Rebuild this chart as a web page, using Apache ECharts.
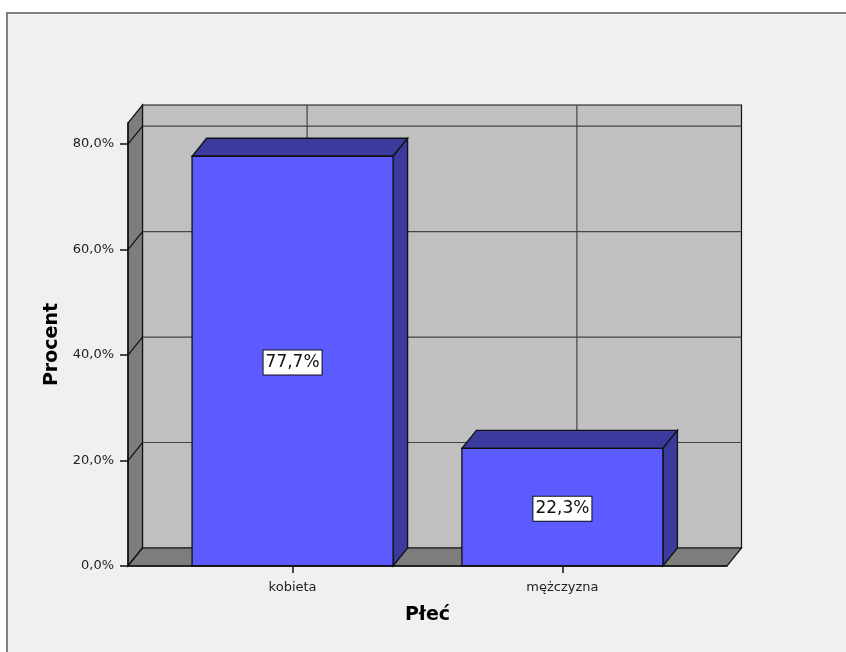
<!DOCTYPE html>
<html>
<head>
<meta charset="utf-8">
<script src="https://cdn.jsdelivr.net/npm/echarts@6/dist/echarts.min.js"></script>
<style>
  html, body { margin: 0; padding: 0; background: #ffffff; }
  #chart { width: 846px; height: 652px; }
</style>
</head>
<body>
<div id="chart"></div>
<script>
// Share of respondents by sex
const categories = ['kobieta', 'mężczyzna'];
const percents = [77.7, 22.3];
const percentTicks = [0, 20, 40, 60, 80];
const categoryTicks = [0, 1];

// Pseudo-3D look: depth offset of the back plane, bar width in category units
const DX = 14.5;
const DY = -18;
const BAR_WIDTH = 0.745;
const X_MIN = -0.61, X_MAX = 1.61;
const Y_MAX = 84;

const fmtPct = v => v.toFixed(1).replace('.', ',') + '%';

const chart = echarts.init(document.getElementById('chart'), null, { renderer: 'canvas' });

function renderWalls(params, api) {
  const cs = params.coordSys;
  const x0 = cs.x, x1 = cs.x + cs.width;
  const yt = cs.y, yb = cs.y + cs.height;
  const children = [];

  // back wall
  children.push({
    type: 'rect',
    shape: { x: x0 + DX, y: yt + DY, width: x1 - x0, height: yb - yt },
    style: { fill: '#c0c0c0', stroke: '#111', lineWidth: 1.2 }
  });
  // horizontal grid lines on the back wall
  percentTicks.forEach(v => {
    if (v === 0) return;
    const y = api.coord([0, v])[1] + DY;
    children.push({
      type: 'line',
      shape: { x1: x0 + DX, y1: y, x2: x1 + DX, y2: y },
      style: { stroke: '#444', lineWidth: 1.2 }
    });
  });
  // vertical grid lines on the back wall, one per category
  categoryTicks.forEach(i => {
    const x = api.coord([i, 0])[0] + DX;
    children.push({
      type: 'line',
      shape: { x1: x, y1: yt + DY, x2: x, y2: yb + DY },
      style: { stroke: '#444', lineWidth: 1.2 }
    });
  });
  // left wall
  children.push({
    type: 'polygon',
    shape: { points: [[x0, yb], [x0, yt], [x0 + DX, yt + DY], [x0 + DX, yb + DY]] },
    style: { fill: '#7d7d7d', stroke: '#111', lineWidth: 1.2 }
  });
  // tick lines running across the left wall
  percentTicks.forEach(v => {
    const y = api.coord([0, v])[1];
    children.push({
      type: 'line',
      shape: { x1: x0, y1: y, x2: x0 + DX, y2: y + DY },
      style: { stroke: '#111', lineWidth: 1.2 }
    });
  });
  // floor
  children.push({
    type: 'polygon',
    shape: { points: [[x0, yb], [x1, yb], [x1 + DX, yb + DY], [x0 + DX, yb + DY]] },
    style: { fill: '#7d7d7d', stroke: '#111', lineWidth: 1.2 }
  });
  return { type: 'group', children };
}

function renderBar(params, api) {
  const xi = api.value(0);
  const val = api.value(1);
  const base = api.coord([xi, 0]);
  const top = api.coord([xi, val]);
  const hw = api.size([BAR_WIDTH, 0])[0] / 2;
  const cx = base[0], by = base[1], ty = top[1];
  const l = cx - hw, r = cx + hw;
  return {
    type: 'group',
    children: [
      {
        type: 'polygon',
        shape: { points: [[l, ty], [r, ty], [r + DX, ty + DY], [l + DX, ty + DY]] },
        style: { fill: '#3a3b9c', stroke: '#111', lineWidth: 1.3 }
      },
      {
        type: 'polygon',
        shape: { points: [[r, ty], [r, by], [r + DX, by + DY], [r + DX, ty + DY]] },
        style: { fill: '#3a3b9c', stroke: '#111', lineWidth: 1.3 }
      },
      {
        type: 'rect',
        shape: { x: l, y: ty, width: r - l, height: by - ty },
        style: { fill: '#5b5bff', stroke: '#111', lineWidth: 1.3 }
      },
      {
        type: 'text',
        x: cx,
        y: (ty + by) / 2 + 1.5,
        style: {
          text: fmtPct(val),
          font: '17px "DejaVu Sans"',
          fill: '#111',
          align: 'center',
          verticalAlign: 'middle',
          backgroundColor: '#ffffff',
          borderColor: '#111',
          borderWidth: 1,
          padding: [4, 2, 3, 2]
        }
      }
    ]
  };
}

const option = {
  animation: false,
  backgroundColor: 'transparent',
  graphic: [{
    type: 'rect',
    z: -10,
    shape: { x: 7, y: 13, width: 900, height: 700 },
    style: { fill: '#f0f0f0', stroke: '#808080', lineWidth: 2 }
  }],
  grid: { left: 128, right: 119, top: 123, bottom: 86 },
  xAxis: {
    type: 'value',
    min: X_MIN,
    max: X_MAX,
    z: 10,
    splitLine: { show: false },
    axisLine: { show: true, onZero: false, lineStyle: { color: '#111', width: 1.5 } },
    axisTick: { show: true, customValues: categoryTicks, length: 7, lineStyle: { color: '#111', width: 1.5 } },
    axisLabel: {
      customValues: categoryTicks,
      formatter: v => categories[Math.round(v)],
      margin: 15,
      fontFamily: 'DejaVu Sans',
      fontSize: 13,
      color: '#222'
    },
    name: 'Płeć',
    nameLocation: 'middle',
    nameGap: 40,
    nameTextStyle: { fontFamily: 'DejaVu Sans', fontWeight: 'bold', fontSize: 19, color: '#000' }
  },
  yAxis: {
    type: 'value',
    min: 0,
    max: Y_MAX,
    z: 10,
    splitLine: { show: false },
    axisLine: { show: true, onZero: false, lineStyle: { color: '#111', width: 1.5 } },
    axisTick: { show: true, customValues: percentTicks, length: 8, lineStyle: { color: '#111', width: 1.5 } },
    axisLabel: {
      customValues: percentTicks,
      formatter: v => fmtPct(v),
      margin: 14,
      fontFamily: 'DejaVu Sans',
      fontSize: 13,
      color: '#222'
    },
    name: 'Procent',
    nameLocation: 'middle',
    nameRotate: 90,
    nameGap: 56,
    nameTextStyle: { fontFamily: 'DejaVu Sans', fontWeight: 'bold', fontSize: 19, color: '#000' }
  },
  series: [
    {
      type: 'custom',
      name: 'walls',
      z: 1,
      silent: true,
      clip: false,
      data: [[0, 0]],
      renderItem: renderWalls
    },
    {
      type: 'custom',
      name: 'Procent',
      z: 3,
      clip: false,
      data: categoryTicks.map((i, k) => [i, percents[k]]),
      renderItem: renderBar
    }
  ]
};

chart.setOption(option);
</script>
</body>
</html>
